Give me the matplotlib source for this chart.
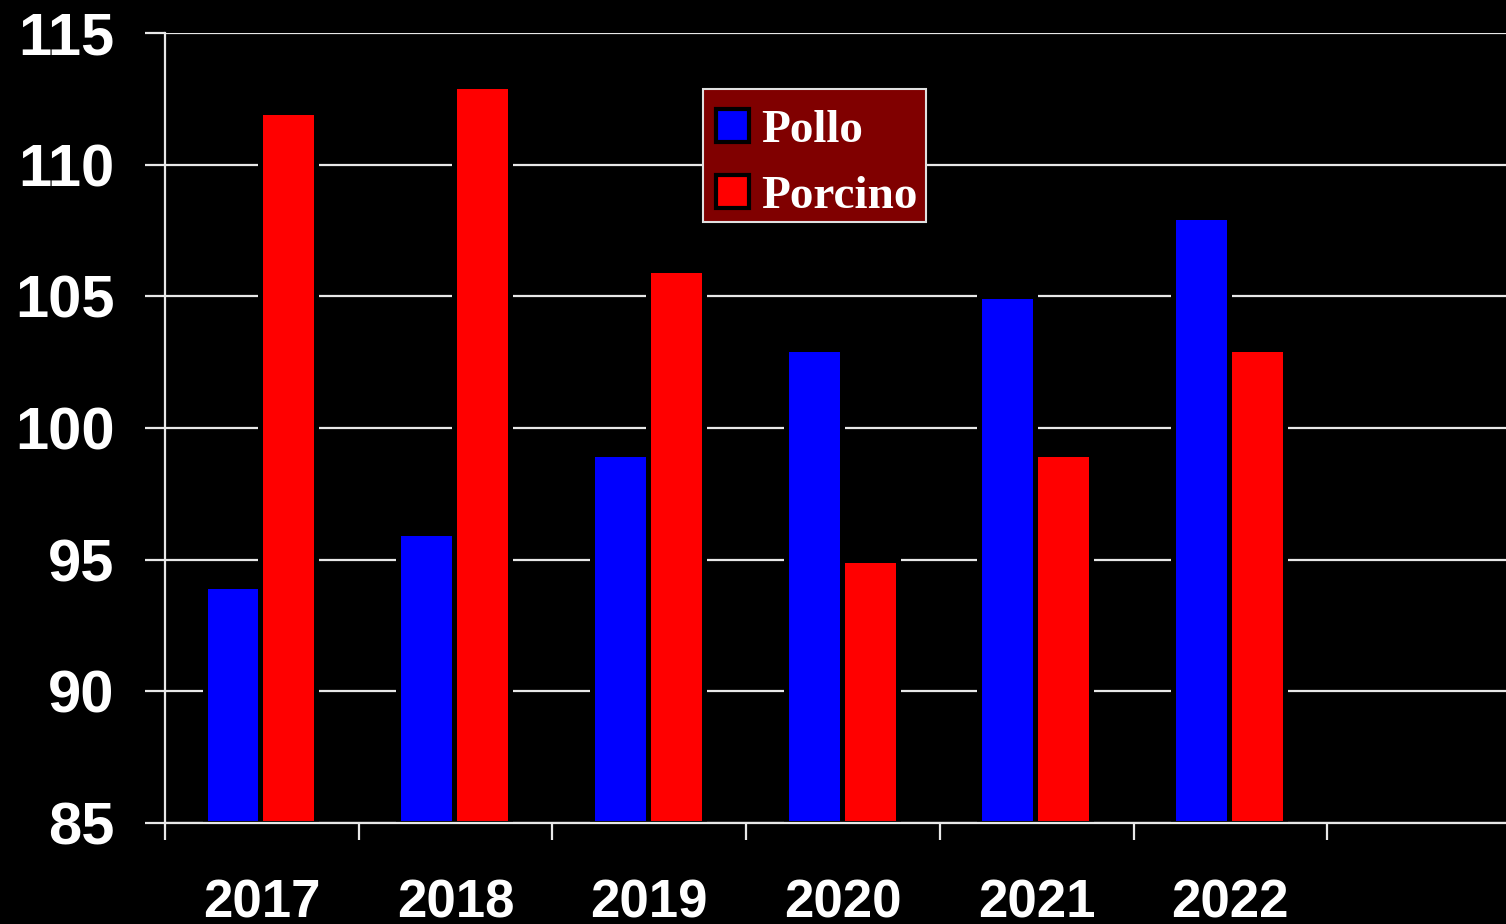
import numpy as np
import matplotlib.pyplot as plt
from matplotlib.patches import Patch, Rectangle

years = ["2017", "2018", "2019", "2020", "2021", "2022"]
pollo = [94, 96, 99, 103, 105, 108]
porcino = [112, 113, 106, 95, 99, 103]
yticks = [85, 90, 95, 100, 105, 110, 115]

fig = plt.figure(figsize=(15.06, 9.24), dpi=100, facecolor="black")
ax = fig.add_axes([165 / 1506, 1 - 823 / 924, 1 - 165 / 1506, (823 - 33) / 924])
ax.set_facecolor("black")

x = np.arange(len(years))
w = 0.289
ax.bar(x + 0.204, np.array(pollo) - 85, w, bottom=85, align="edge",
       color="#0000ff", edgecolor="black", linewidth=3.6, zorder=3)
ax.bar(x + 0.204 + w, np.array(porcino) - 85, w, bottom=85, align="edge",
       color="#ff0000", edgecolor="black", linewidth=3.6, zorder=3)

ax.set_ylim(85, 115)
ax.set_xlim(0, (1506 - 165) / 193.7)
ax.set_yticks(yticks)
ax.set_yticklabels([str(v) for v in yticks], fontsize=43, fontweight="bold",
                   color="white", family="Liberation Sans")
ax.yaxis.grid(True, color="#e8e8e8", linewidth=1.6, zorder=0)
ax.set_axisbelow(True)
ax.tick_params(axis="y", length=14.4, width=1.6, color="#e8e8e8", pad=22)

ax.set_xticks(np.arange(0, 7))
ax.set_xticklabels([])
ax.tick_params(axis="x", which="major", length=12, width=1.6, color="#e8e8e8")
ax.set_xticks(x + 0.5, minor=True)
ax.set_xticklabels(years, minor=True, fontsize=38, fontweight="bold",
                   color="white", family="Liberation Sans")
ax.tick_params(axis="x", which="minor", length=0, pad=40)

for s in ["top", "right"]:
    ax.spines[s].set_visible(False)
for s in ["left", "bottom"]:
    ax.spines[s].set_color("#e8e8e8")
    ax.spines[s].set_linewidth(1.6)
ax.spines["bottom"].set_zorder(4)

# legend frame drawn separately so the entries can sit where they do in the original
fig.add_artist(Rectangle((703 / 1506, 1 - 222 / 924), 223 / 1506, 133 / 924,
                         transform=fig.transFigure, facecolor="#800000",
                         edgecolor="#e0e0e0", linewidth=1.5, zorder=2))

handles = [Patch(facecolor="#0000ff", edgecolor="black", linewidth=3, label="Pollo"),
           Patch(facecolor="#ff0000", edgecolor="black", linewidth=3, label="Porcino")]
leg = fig.legend(handles=handles, loc="upper left", bbox_to_anchor=(702 / 1506, 1 - 95 / 924),
                 prop={"family": "Liberation Serif", "weight": "bold", "size": 34},
                 frameon=False, handlelength=0.7, handleheight=0.7, handletextpad=0.25,
                 borderpad=0.3, labelspacing=0.48, borderaxespad=0)
leg.set_zorder(5)
for t in leg.get_texts():
    t.set_color("white")

fig.savefig("out.png", dpi=100, facecolor="black")
